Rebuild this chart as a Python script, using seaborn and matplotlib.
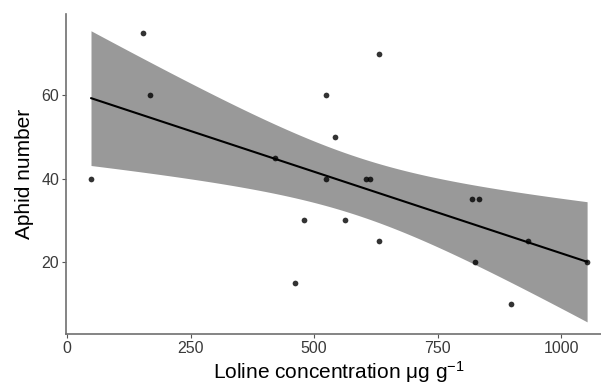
import matplotlib
matplotlib.use("Agg")
import matplotlib.pyplot as plt
import seaborn as sns
import pandas as pd
import numpy as np

loline = [48.6, 153, 168.6, 421.7, 462, 480, 525, 525, 543, 563,
          605, 613, 632, 632, 820.5, 826.7, 834, 899, 932.5, 1052.6]
aphids = [40, 75, 60, 45, 15, 30, 60, 40, 50, 30,
          40, 40, 70, 25, 35, 20, 35, 10, 25, 20]

x_ticks = [0, 250, 500, 750, 1000]
y_ticks = [20, 40, 60]

df = pd.DataFrame({"loline": loline, "aphids": aphids})

sns.set_style("white")
plt.rcParams["font.family"] = ["Liberation Sans", "DejaVu Sans"]
plt.rcParams["mathtext.default"] = "regular"

fig = plt.figure(figsize=(6.01, 3.87), dpi=100)
ax = fig.add_axes([66 / 601, 1 - 334 / 387, (612 - 66) / 601, (334 - 14) / 387])

# analytic 95% confidence band of the linear fit (as in ggplot's geom_smooth)
xv = np.asarray(loline, float)
yv = np.asarray(aphids, float)
n = len(xv)
b1, b0 = np.polyfit(xv, yv, 1)
resid = yv - (b0 + b1 * xv)
s = np.sqrt(np.sum(resid ** 2) / (n - 2))
grid = np.linspace(xv.min(), xv.max(), 200)
sxx = np.sum((xv - xv.mean()) ** 2)
se = s * np.sqrt(1 / n + (grid - xv.mean()) ** 2 / sxx)
tcrit = 2.100922  # t(0.975, df=18)
fit = b0 + b1 * grid
ax.fill_between(grid, fit - tcrit * se, fit + tcrit * se, color="#999999",
                linewidth=0, zorder=1)

sns.regplot(data=df, x="loline", y="aphids", ax=ax, ci=None,
            color="black",
            scatter_kws={"s": 17, "zorder": 3, "linewidths": 0},
            line_kws={"lw": 1.5, "zorder": 2})

ax.set_xlim(-2, 1103)
ax.set_ylim(2.7, 79.5)
ax.set_xticks(x_ticks)
ax.set_yticks(y_ticks)
ax.tick_params(axis="both", which="both", length=3, width=0.8, color="#555555",
               labelsize=11.5, labelcolor="#3a3a3a", pad=2, bottom=True, left=True)

for side in ["top", "right"]:
    ax.spines[side].set_visible(False)
for side in ["left", "bottom"]:
    ax.spines[side].set_color("#707070")
    ax.spines[side].set_linewidth(1.2)

ax.set_xlabel("Loline concentration μg g$^{-1}$", fontsize=15, color="black", labelpad=2)
ax.set_ylabel("Aphid number", fontsize=15, color="black", labelpad=5)

fig.savefig("out.png", dpi=100)
